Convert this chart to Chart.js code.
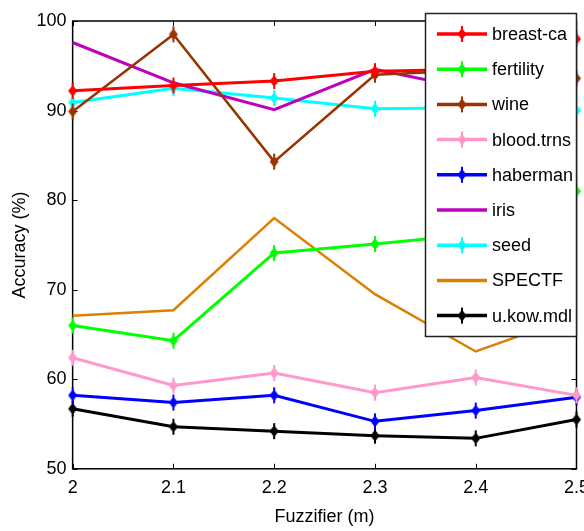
<!DOCTYPE html>
<html>
<head>
<meta charset="utf-8">
<script src="https://cdn.jsdelivr.net/npm/chart.js@4.4.1/dist/chart.umd.min.js"></script>
<style>
  html, body { margin: 0; padding: 0; background: #fff; overflow: hidden; }
  #wrap { width: 597px; height: 531px; }
</style>
</head>
<body>
<div id="wrap"><canvas id="grafico" width="597" height="531"></canvas></div>
<script>
// valores de fuzzifier (eje x)
const fuzzifier = ['2', '2.1', '2.2', '2.3', '2.4', '2.5'];
const yTicks = [50, 60, 70, 80, 90, 100];

// precisión (%) por conjunto de datos
const breastCa  = [92.2, 92.8, 93.3, 94.4, 94.6, 98.0];
const fertility = [66.0, 64.3, 74.1, 75.1, 76.2, 81.0];
const wine      = [89.9, 98.5, 84.3, 94.0, 94.5, 93.6];
const bloodTrns = [62.4, 59.3, 60.7, 58.5, 60.2, 58.2];
const haberman  = [58.2, 57.4, 58.2, 55.3, 56.5, 58.0];
const iris      = [97.6, 93.1, 90.1, 94.6, 92.3, 93.0];
const seed      = [90.9, 92.5, 91.4, 90.2, 90.3, 90.0];
const spectf    = [67.1, 67.7, 78.0, 69.5, 63.1, 67.1];
const ukowMdl   = [56.7, 54.7, 54.2, 53.7, 53.4, 55.5];

const FUENTE = "'Liberation Sans', Arial, sans-serif";

// marcador tipo diamante con trazo vertical (estilo MATLAB)
function crearMarcador(color) {
    const c = document.createElement('canvas');
    c.width = 12; c.height = 18;
    const g = c.getContext('2d');
    g.fillStyle = color;
    g.fillRect(5, 1, 2, 16);
    g.beginPath();
    g.moveTo(6, 3);
    g.lineTo(10.5, 9);
    g.lineTo(6, 15);
    g.lineTo(1.5, 9);
    g.closePath();
    g.fill();
    return c;
}

function serie(label, data, color, conMarca, ancho) {
    return {
        label: label,
        data: data,
        borderColor: color,
        backgroundColor: color,
        borderWidth: ancho,
        pointStyle: conMarca ? crearMarcador(color) : false,
        pointRadius: conMarca ? 6 : 0,
        tension: 0,
        clip: false
    };
}

// marco y marcas interiores de los ejes
const marcoEjes = {
    id: 'marcoEjes',
    beforeDatasetsDraw(chart) {
        const { ctx, chartArea: a, scales } = chart;
        ctx.save();
        ctx.strokeStyle = '#000';
        ctx.lineWidth = 1.5;
        ctx.strokeRect(a.left, a.top, a.right - a.left, a.bottom - a.top);
        ctx.lineWidth = 1;
        ctx.beginPath();
        fuzzifier.forEach((f, i) => {
            const x = Math.round(scales.x.getPixelForValue(i)) + 0.5;
            ctx.moveTo(x, a.bottom); ctx.lineTo(x, a.bottom - 5);
            ctx.moveTo(x, a.top); ctx.lineTo(x, a.top + 5);
        });
        yTicks.forEach(v => {
            const y = Math.round(scales.y.getPixelForValue(v)) + 0.5;
            ctx.moveTo(a.left, y); ctx.lineTo(a.left + 5, y);
            ctx.moveTo(a.right, y); ctx.lineTo(a.right - 5, y);
        });
        ctx.stroke();
        ctx.restore();
    }
};

// leyenda dentro del área del gráfico (arriba a la derecha)
const leyendaInterna = {
    id: 'leyendaInterna',
    afterDraw(chart) {
        const { ctx, chartArea: a } = chart;
        const left = 425.5, top = 13.5, right = a.right, bottom = 336.5;
        ctx.save();
        ctx.fillStyle = '#fff';
        ctx.fillRect(left, top, right - left, bottom - top);
        ctx.strokeStyle = '#222';
        ctx.lineWidth = 1.5;
        ctx.strokeRect(left, top, right - left, bottom - top);
        ctx.font = '18px ' + FUENTE;
        ctx.textBaseline = 'middle';
        chart.data.datasets.forEach((ds, i) => {
            const y = 34 + i * 35.2;
            ctx.strokeStyle = ds.borderColor;
            ctx.lineWidth = 3.5;
            ctx.beginPath();
            ctx.moveTo(437, y); ctx.lineTo(487, y);
            ctx.stroke();
            if (ds.pointStyle) ctx.drawImage(ds.pointStyle, 462 - 6, y - 9);
            ctx.fillStyle = '#000';
            ctx.fillText(ds.label, 492, y + 1);
        });
        ctx.restore();
    }
};

new Chart(document.getElementById('grafico').getContext('2d'), {
    type: 'line',
    data: {
        labels: fuzzifier,
        datasets: [
            serie('breast-ca', breastCa, '#ff0000', true, 3),
            serie('fertility', fertility, '#00ff00', true, 3),
            serie('wine', wine, '#993300', true, 2.5),
            serie('blood.trns', bloodTrns, '#ff99cc', true, 3),
            serie('haberman', haberman, '#0000ff', true, 3),
            serie('iris', iris, '#bf00bf', false, 3),
            serie('seed', seed, '#00ffff', true, 3),
            serie('SPECTF', spectf, '#dd7f00', false, 2.5),
            serie('u.kow.mdl', ukowMdl, '#000000', true, 3)
        ]
    },
    options: {
        responsive: false,
        animation: false,
        events: [],
        layout: { padding: { left: 9, top: 21, right: 0, bottom: 3 } },
        plugins: {
            legend: { display: false },
            tooltip: { enabled: false }
        },
        scales: {
            x: {
                offset: false,
                grid: { display: false, drawTicks: false },
                border: { display: false },
                ticks: {
                    color: '#000',
                    padding: 8,
                    maxRotation: 0,
                    autoSkip: false,
                    font: { family: FUENTE, size: 18 }
                },
                title: {
                    display: true,
                    text: 'Fuzzifier (m)',
                    color: '#000',
                    padding: { top: 0, bottom: 0 },
                    font: { family: FUENTE, size: 18 }
                }
            },
            y: {
                min: 50,
                max: 100,
                grid: { display: false, drawTicks: false },
                border: { display: false },
                afterBuildTicks: (scale) => { scale.ticks = yTicks.map(v => ({ value: v })); },
                ticks: {
                    color: '#000',
                    padding: 6,
                    font: { family: FUENTE, size: 18 }
                },
                title: {
                    display: true,
                    text: 'Accuracy (%)',
                    color: '#000',
                    padding: { top: 0, bottom: 0 },
                    font: { family: FUENTE, size: 18 }
                }
            }
        }
    },
    plugins: [marcoEjes, leyendaInterna]
});
</script>
</body>
</html>
